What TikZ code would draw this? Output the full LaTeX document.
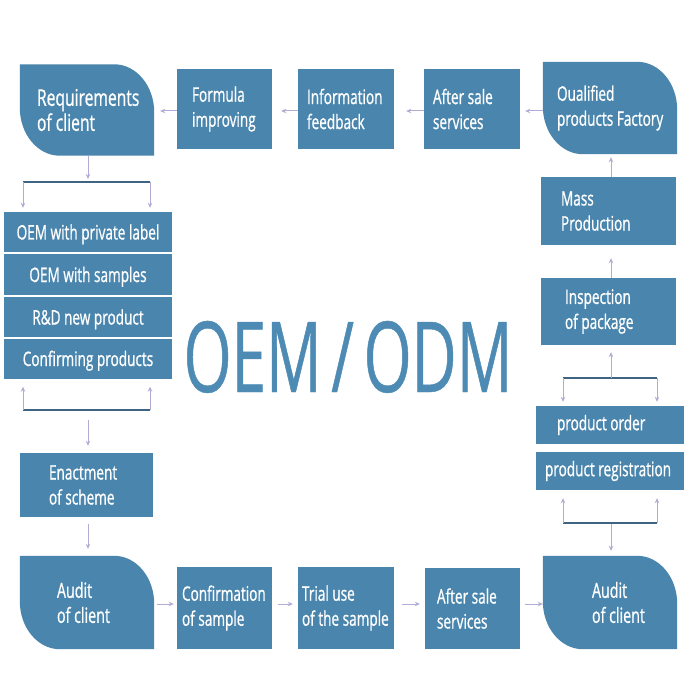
\documentclass[tikz,border=0pt]{standalone}
\usepackage{fontspec}
\setmainfont{Open Sans}[FakeStretch=0.68, FakeBold=0.8]
\newfontfamily\oemfont{Open Sans}[FakeStretch=0.63, WordSpace=0.6, FakeBold=0.5]
\usetikzlibrary{arrows.meta,backgrounds}
\hyphenpenalty=10000
\exhyphenpenalty=10000
\definecolor{boxblue}{RGB}{73,133,172}
\definecolor{oemblue}{RGB}{78,139,180}
\definecolor{lav}{RGB}{175,172,214}
\definecolor{brkcol}{RGB}{62,100,130}
\newcommand\leafshape[1]{%
  \fill[boxblue] (#1.north west) -- ([xshift=-40pt]#1.north east)
    .. controls ([xshift=-17.9pt]#1.north east) and ([yshift=-21.5pt]#1.north east) .. ([yshift=-48pt]#1.north east)
    -- (#1.south east) -- ([xshift=40pt]#1.south west)
    .. controls ([xshift=17.9pt]#1.south west) and ([yshift=21.5pt]#1.south west) .. ([yshift=48pt]#1.south west)
    -- cycle;}
\begin{document}
\begin{tikzpicture}[x=1pt,y=-1pt,
  box/.style={fill=boxblue, text=white, inner sep=0pt, align=flush left, font=\fontsize{20}{25}\selectfont},
  leafnode/.style={text=white, inner sep=0pt, align=flush left, font=\fontsize{21}{25}\selectfont},
  listrow/.style={fill=boxblue, text=white, inner sep=0pt, align=flush center, minimum width=168pt, font=\fontsize{20}{25}\selectfont, text height=15pt, text depth=0pt},
  conn/.style={draw=lav, line width=1pt, -{Stealth[length=5pt,width=4.5pt]}},
  brk/.style={draw=brkcol, line width=2.5pt}]
\useasboundingbox (0,0) rectangle (700,700);

% top row
\node[leafnode, minimum width=134pt, minimum height=91pt, text width=100pt, font=\fontsize{23}{25}\selectfont] (req) at (87,110) {Requirements\\\mbox{of client}};
\node[box, minimum width=95pt, minimum height=80pt, text width=65pt] (formula) at (224.5,109) {Formula\\improving};
\node[box, minimum width=96pt, minimum height=80pt, text width=78pt] (info) at (346,109) {Information\\feedback};
\node[box, minimum width=96pt, minimum height=80pt, text width=78pt] (aftertop) at (472,109) {\mbox{After sale}\\services};
\node[leafnode, minimum width=134pt, minimum height=92pt, text width=106pt, font=\fontsize{20}{25}\selectfont] (qual) at (610,108) {Oualified\\\mbox{products Factory}};

% right column
\node[box, minimum width=135pt, minimum height=68pt, text width=95pt] (mass) at (608.5,211) {Mass\\Production};
\node[box, minimum width=135pt, minimum height=67pt, text width=87pt] (insp) at (608.5,311.5) {Inspection\\\mbox{of package}};
\node[box, minimum width=148pt, minimum height=38pt, text width=106pt] (order) at (610,425) {\mbox{product order}};
\node[box, minimum width=148pt, minimum height=38pt, text width=130pt] (reg) at (610,471) {\mbox{product registration}};

% left column
\node[listrow, minimum height=40pt] (l1) at (88,232) {OEM with private label};
\node[listrow, minimum height=41pt] (l2) at (88,274.5) {OEM with samples};
\node[listrow, minimum height=40pt] (l3) at (88,317) {R\&D new product};
\node[listrow, minimum height=40pt] (l4) at (88,358.5) {Confirming products};
\node[box, minimum width=133pt, minimum height=64pt, text width=75pt] (enact) at (86.5,485) {Enactment\\\mbox{of scheme}};

% bottom row
\node[leafnode, minimum width=134pt, minimum height=93pt, text width=60pt] (auditL) at (87,602.5) {Audit\\\mbox{of client}};
\node[box, minimum width=95pt, minimum height=82pt, text width=85pt] (conf) at (224.5,608) {Confirmation\\\mbox{of sample}};
\node[box, minimum width=96pt, minimum height=82pt, text width=88pt] (trial) at (346,608) {\mbox{Trial use}\\\mbox{of the sample}};
\node[box, minimum width=95pt, minimum height=81pt, text width=71pt] (afterbot) at (472.5,608.5) {\mbox{After sale}\\services};
\node[leafnode, minimum width=134pt, minimum height=93pt, text width=36pt] (auditR) at (610,602.5) {Audit\\\mbox{of client}};

% centre title
\node[anchor=base, inner sep=0pt, text=oemblue, font=\oemfont\fontsize{98}{100}\selectfont] (oem) at (348,392) {OEM / ODM};

\begin{scope}[on background layer]
  \fill[white] (0,0) rectangle (700,700);
  \leafshape{req}
  \leafshape{qual}
  \leafshape{auditL}
  \leafshape{auditR}
\end{scope}

% helper coordinates
\coordinate (toprow) at (0,111);
\coordinate (botrow) at (0,604);
\coordinate (bLT) at (88,182);
\coordinate (bLTl) at (23,182);
\coordinate (bLTr) at (150,182);
\coordinate (bLB) at (88,410);
\coordinate (bLBl) at (23,410);
\coordinate (bLBr) at (150,410);
\coordinate (bRT) at (611,378);
\coordinate (bRTl) at (563,378);
\coordinate (bRTr) at (657,378);
\coordinate (bRB) at (611,523);
\coordinate (bRBl) at (563,523);
\coordinate (bRBr) at (657,523);

% top row connectors (leftwards)
\draw[conn, shorten >=5pt] (qual.west |- toprow) -- (aftertop.east |- toprow);
\draw[conn, shorten >=12pt] (aftertop.west |- toprow) -- (info.east |- toprow);
\draw[conn, shorten >=9pt] (info.west |- toprow) -- (formula.east |- toprow);
\draw[conn, shorten >=6pt] (formula.west |- toprow) -- (req.east |- toprow);

% left column
\draw[conn, shorten >=3pt] (req.south -| bLT) -- (bLT);
\draw[brk] (bLTl) -- (bLTr);
\draw[conn, shorten >=4pt] (bLTl) -- (bLTl |- l1.north);
\draw[conn, shorten >=4pt] (bLTr) -- (bLTr |- l1.north);
\draw[brk] (bLBl) -- (bLBr);
\draw[conn, shorten >=8pt] (bLBl) -- (bLBl |- l4.south);
\draw[conn, shorten >=8pt] (bLBr) -- (bLBr |- l4.south);
\draw[conn, shorten <=10pt, shorten >=7pt] (bLB) -- (bLB |- enact.north);
\draw[conn, shorten <=7pt, shorten >=7pt] (enact.south -| bLB) -- (bLB |- auditL.north);

% bottom row connectors (rightwards)
\draw[conn, shorten <=3pt, shorten >=3pt] (auditL.east |- botrow) -- (conf.west |- botrow);
\draw[conn, shorten <=6pt, shorten >=5pt] (conf.east |- botrow) -- (trial.west |- botrow);
\draw[conn, shorten <=8pt, shorten >=5pt] (trial.east |- botrow) -- (afterbot.west |- botrow);
\draw[conn, shorten <=5pt] (afterbot.east |- botrow) -- (auditR.west |- botrow);

% right column (upwards)
\draw[conn, shorten >=5pt] (bRB) -- (bRB |- auditR.north);
\draw[brk] (bRBl) -- (bRBr);
\draw[conn, shorten >=8pt] (bRBl) -- (bRBl |- reg.south);
\draw[conn, shorten >=8pt] (bRBr) -- (bRBr |- reg.south);
\draw[brk] (bRTl) -- (bRTr);
\draw[conn, shorten >=4pt] (bRTl) -- (bRTl |- order.north);
\draw[conn, shorten >=4pt] (bRTr) -- (bRTr |- order.north);
\draw[conn, shorten >=7pt] (bRT) -- (bRT |- insp.south);
\draw[conn, shorten >=13pt] (insp.north -| bRT) -- (bRT |- mass.south);
\draw[conn, shorten >=3pt] (mass.north -| bRT) -- (bRT |- qual.south);
\end{tikzpicture}
\end{document}
